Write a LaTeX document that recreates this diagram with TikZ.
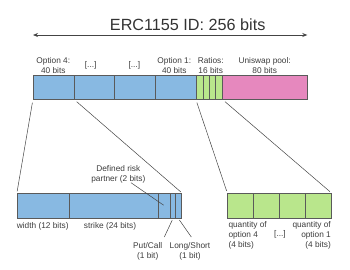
\documentclass[tikz,border=0pt]{standalone}
\usepackage{fontspec}
\setmainfont{Liberation Sans}
\usetikzlibrary{arrows.meta}
\definecolor{cblue}{HTML}{88B9E2}
\definecolor{cgreen}{HTML}{B9E68C}
\definecolor{cpink}{HTML}{E688BE}
\definecolor{segline}{HTML}{5A5A5A}
\definecolor{lncol}{HTML}{444444}
\definecolor{txt}{HTML}{3C3C3C}
\begin{document}
\begin{tikzpicture}[x=1pt,y=-1pt,
  seg/.style={rectangle,draw=segline,line width=0.8pt,inner sep=0pt,minimum height=24pt},
  segb/.style={seg,minimum height=25pt},
  lbl/.style={font=\fontsize{8.3}{9.9}\selectfont,text=txt,align=center,inner sep=0pt},
  con/.style={draw=lncol,line width=0.5pt},
  ttlstyle/.style={font=\fontsize{16.2}{19}\selectfont,text=black!80,inner sep=0pt}]
\useasboundingbox (0,0) rectangle (350,269);
% title and arrow
\node[ttlstyle] (ttl) at (187.7,24.3) {ERC1155 ID: 256 bits};
\coordinate (al) at (33,35);
\coordinate (ar) at (307.3,35);
\draw[con,line width=0.7pt,{Stealth[length=5pt,width=4pt]}-{Stealth[length=5pt,width=4pt]}] (al) -- (ar);
% top bar
\node[seg,fill=cblue,minimum width=40.7pt] (o4) at (53.65,87.3) {};
\node[seg,fill=cblue,minimum width=40.7pt] (oa) at (94.35,87.3) {};
\node[seg,fill=cblue,minimum width=40.6pt] (ob) at (135,87.3) {};
\node[seg,fill=cblue,minimum width=41pt] (o1) at (175.8,87.3) {};
\node[seg,fill=cgreen,minimum width=6.7pt] (g1) at (199.65,87.3) {};
\node[seg,fill=cgreen,minimum width=6.3pt] (g2) at (206.15,87.3) {};
\node[seg,fill=cgreen,minimum width=6.4pt] (g3) at (212.5,87.3) {};
\node[seg,fill=cgreen,minimum width=6.6pt] (g4) at (219,87.3) {};
\node[seg,fill=cpink,minimum width=85pt] (pk) at (264.8,87.3) {};
% top labels
\node[lbl] (lo4) at (53.3,65.7) {Option 4:\\40 bits};
\node[lbl] (loa) at (90.7,65.7) {[...]};
\node[lbl] (lob) at (134.3,65.7) {[...]};
\node[lbl] (lo1) at (174.3,65.7) {Option 1:\\40 bits};
\node[lbl] (lr) at (210.7,65.7) {Ratios:\\16 bits};
\node[lbl] (lu) at (264.7,65.7) {Uniswap pool:\\80 bits};
% bottom left bar
\node[segb,fill=cblue,minimum width=52pt] (wd) at (43.3,205.8) {};
\node[segb,fill=cblue,minimum width=89.4pt] (st) at (114,205.8) {};
\node[segb,fill=cblue,minimum width=11.6pt] (dr) at (164.5,205.8) {};
\node[segb,fill=cblue,minimum width=5.2pt] (pc) at (172.9,205.8) {};
\node[segb,fill=cblue,minimum width=6pt] (ls) at (178.5,205.8) {};
% bottom right bar
\node[segb,fill=cgreen,minimum width=25.8pt] (q4) at (240.6,205.8) {};
\node[segb,fill=cgreen,minimum width=25.8pt] (qb) at (266.4,205.8) {};
\node[segb,fill=cgreen,minimum width=25.9pt] (qc) at (292.25,205.8) {};
\node[segb,fill=cgreen,minimum width=25.8pt] (q1) at (318.1,205.8) {};
% zoom connectors
\draw[con,shorten <=3pt,shorten >=1.5pt] (o4.south west) -- (wd.north west);
\draw[con,shorten <=3pt,shorten >=1.5pt] (o4.south east) -- (ls.north east);
\draw[con,shorten <=3pt,shorten >=2pt] (g1.south west) -- (q4.north west);
\draw[con,shorten <=3pt,shorten >=2pt] (g4.south east) -- (q1.north east);
% bottom labels
\node[lbl] (lwd) at (42.7,226.7) {width (12 bits)};
\node[lbl] (lst) at (110,226.7) {strike (24 bits)};
\node[lbl] (ldr) at (118.3,174) {Defined risk\\partner (2 bits)};
\node[lbl] (lpc) at (147.7,251) {Put/Call\\(1 bit)};
\node[lbl] (lls) at (190,251) {Long/Short\\(1 bit)};
\node[lbl,align=left,anchor=north west] (lq4) at (228.3,221.5) {quantity of\\option 4\\(4 bits)};
\node[lbl,align=right,anchor=north east] (lq1) at (331,221.5) {quantity of\\option 1\\(4 bits)};
\node[lbl] (lqm) at (280,234) {[...]};
% pointers
\coordinate (pdr) at (131,182.7);
\coordinate (ppc) at (164.3,237);
\coordinate (pls) at (191.3,237);
\draw[con,shorten >=1pt] (pdr) -- (dr.center);
\draw[con,shorten >=1.5pt] (ppc) -- (pc.south);
\draw[con,shorten >=1.5pt] (pls) -- (ls.south);
\end{tikzpicture}
\end{document}
